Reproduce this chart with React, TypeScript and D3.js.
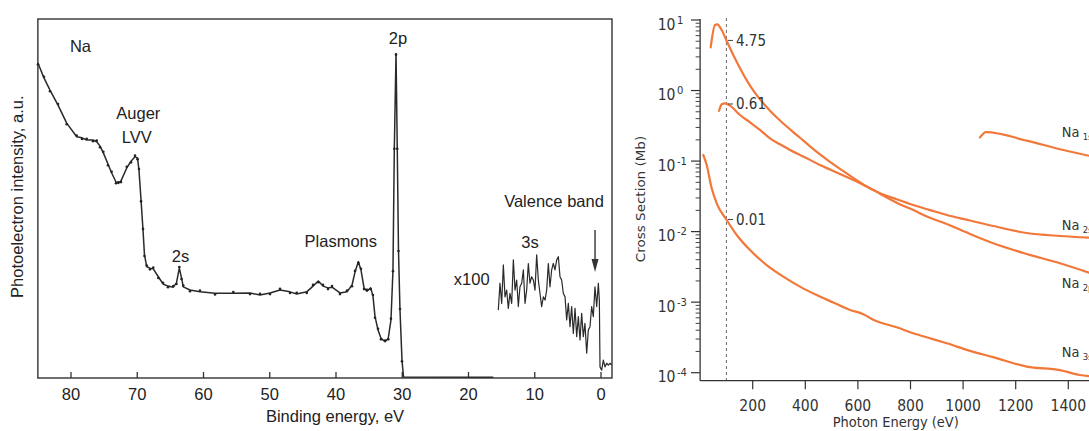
import React from "react";
import * as d3 from "d3";

// ---------- Left panel: Na XPS spectrum ----------
const xpsBinding = [84.98, 84.08, 83.17, 81.96, 80.65, 79.14, 78.34, 77.63, 76.68, 76.12, 75.62, 75.12, 74.42, 73.86, 73.21, 72.86, 72.45, 71.59, 70.94, 70.34, 69.96, 69.74, 69.43, 69.13, 68.91, 68.57, 68.08, 67.58, 66.82, 66.11, 65.36, 64.56, 64.08, 63.65, 63.32, 63.05, 62.04, 60.53, 58.26, 55.5, 52.98, 51.47, 49.96, 48.45, 46.94, 45.93, 44.42, 43.47, 42.67, 41.96, 41.21, 40.6, 39.4, 38.34, 37.58, 37.13, 36.63, 36.23, 35.77, 35.32, 34.76, 34.42, 34.11, 33.66, 33.21, 32.6, 32.11, 31.7, 31.4, 31.2, 30.94, 30.75, 30.57, 30.34, 30.04, 29.81, 16.26];
const xpsIntensity = [87.7, 83.6, 80.2, 76.0, 71.0, 67.2, 66.9, 66.3, 66.3, 65.8, 64.6, 62.7, 59.6, 57.1, 54.6, 54.2, 54.9, 58.5, 60.4, 61.6, 61.3, 57.9, 49.6, 41.2, 34.3, 31.0, 30.6, 30.4, 28.2, 26.2, 25.6, 25.3, 26.5, 30.6, 27.9, 25.4, 24.5, 24.0, 23.6, 23.6, 23.7, 23.1, 23.7, 24.5, 24.0, 23.4, 24.0, 25.6, 27.0, 25.6, 25.1, 25.3, 23.7, 24.0, 25.9, 29.5, 32.4, 30.1, 25.1, 24.2, 25.1, 22.8, 17.1, 13.4, 11.1, 10.1, 11.1, 16.2, 30.1, 63.5, 90.4, 63.5, 35.7, 18.9, 5.0, 0.3, 0.2];

// valence band, x100
const vbBinding = [15.5, 15.25, 14.99, 14.74, 14.49, 14.24, 13.99, 13.74, 13.48, 13.23, 12.98, 12.73, 12.48, 12.23, 11.97, 11.72, 11.47, 11.22, 10.97, 10.72, 10.47, 10.21, 9.96, 9.71, 9.46, 9.21, 8.96, 8.7, 8.45, 8.2, 7.95, 7.7, 7.45, 7.2, 6.94, 6.69, 6.44, 6.19, 5.94, 5.69, 5.43, 5.18, 4.93, 4.68, 4.43, 4.18, 3.92, 3.67, 3.42, 3.17, 2.92, 2.67, 2.42, 2.16, 1.91, 1.66, 1.41, 1.16, 0.91, 0.65, 0.4, 0.25, 0.15, -0.1, -0.35, -0.6, -0.86, -1.11, -1.36, -1.61];
const vbIntensity = [18.9, 26.4, 20.8, 31.5, 22.6, 24.5, 19.4, 23.6, 20.8, 32.9, 24.5, 27.3, 19.9, 25.4, 26.4, 30.1, 20.8, 24.5, 31.9, 26.4, 28.2, 27.3, 24.5, 34.3, 27.3, 23.6, 19.9, 22.6, 21.7, 24.5, 31.9, 25.4, 30.1, 31.9, 30.1, 32.9, 33.8, 28.2, 27.3, 23.6, 22.6, 16.2, 20.8, 14.3, 19.9, 12.4, 19.4, 11.5, 17.1, 10.6, 18.0, 11.5, 15.2, 6.9, 13.4, 14.3, 19.9, 17.1, 25.4, 19.9, 26.4, 21.7, 3.1, 2.2, 5.0, 3.1, 4.1, 3.6, 4.1, 3.6];

const bindingTicks = [80, 70, 60, 50, 40, 30, 20, 10, 0];
const arrowBinding = 0.9;

// ---------- Right panel: photoionisation cross sections ----------
const energy1s = [1064.3, 1087.1, 1241.8, 1368.4, 1478.7];
const sigma1s = [0.217, 0.258, 0.195, 0.147, 0.119];

const energy2s = [71.9, 82.1, 94.7, 113.7, 151.7, 189.7, 227.7, 265.7, 303.8, 341.8, 379.8, 417.9, 455.9, 493.9, 531.9, 557.4, 595.4, 684.0, 747.5, 810.6, 874.1, 937.6, 1026.2, 1114.8, 1241.8, 1368.4, 1478.7];
const sigma2s = [0.513, 0.638, 0.659, 0.61, 0.45, 0.355, 0.276, 0.21, 0.173, 0.144, 0.122, 0.104, 0.0879, 0.0759, 0.0656, 0.0596, 0.0513, 0.0351, 0.0287, 0.0238, 0.0202, 0.0172, 0.0144, 0.012, 0.00955, 0.00867, 0.0082];

const energy2p = [40.3, 56.7, 65.4, 82.1, 101.1, 126.2, 151.7, 189.7, 227.7, 265.7, 303.8, 341.8, 379.8, 417.9, 455.9, 493.9, 531.9, 557.4, 620.5, 684.0, 747.5, 810.6, 874.1, 937.6, 1026.2, 1114.8, 1241.8, 1368.4, 1478.7];
const sigma2p = [4.1, 8.49, 8.69, 7.21, 5.03, 3.19, 2.07, 1.175, 0.75, 0.519, 0.376, 0.282, 0.214, 0.162, 0.1245, 0.0977, 0.0776, 0.0668, 0.0468, 0.0345, 0.0257, 0.0202, 0.0157, 0.0128, 0.00925, 0.00683, 0.00482, 0.00356, 0.00262];

const energy3s = [12.2, 25.1, 44.1, 63.1, 101.1, 139.2, 189.7, 253.2, 316.3, 379.8, 443.3, 506.5, 570.0, 620.5, 658.6, 747.5, 810.6, 874.1, 937.6, 1026.2, 1114.8, 1241.8, 1368.4, 1444.4, 1478.7];
const sigma3s = [0.122, 0.088, 0.0411, 0.0252, 0.0146, 0.00895, 0.00548, 0.00336, 0.0023, 0.00166, 0.00126, 0.000989, 0.000776, 0.000676, 0.000562, 0.00044, 0.000362, 0.000308, 0.000261, 0.000204, 0.000166, 0.000122, 0.000109, 0.0000927, 0.0000897];

const photonTicks = [200, 400, 600, 800, 1000, 1200, 1400];
const sigmaExponents = [1, 0, -1, -2, -3, -4];
const markerEnergy = 100;
const markerLabels = ["4.75", "0.61", "0.01"];
const shellNames = ["1s", "2s", "2p", "3s"];

const ORANGE = "#F2783A";
const LFONT = "'Liberation Sans', Arial, sans-serif";
const RFONT = "'DejaVu Sans', Verdana, sans-serif";
const STRETCH = 1.13;

function interpLog(es: number[], ss: number[], e: number) {
  const i = d3.bisectLeft(es, e);
  if (i <= 0) return ss[0];
  if (i >= es.length) return ss[es.length - 1];
  const t = (e - es[i - 1]) / (es[i] - es[i - 1]);
  return Math.exp(Math.log(ss[i - 1]) * (1 - t) + Math.log(ss[i]) * t);
}

function RText(props: { x: number; y: number; size: number; anchor?: string; children: React.ReactNode }) {
  return (
    <text
      transform={`translate(${props.x},${props.y}) scale(1,${STRETCH})`}
      textAnchor={props.anchor || "start"}
      fontFamily={RFONT}
      fontSize={props.size}
      fill="#333"
    >
      {props.children}
    </text>
  );
}

export default function App() {
  // left scales
  const xL = d3.scaleLinear().domain([80, 0]).range([71, 601]);
  const yL = d3.scaleLinear().domain([0, 100]).range([378, 19]);
  const frame = { x0: xL(85), x1: xL(-1.66), y0: yL(100), y1: yL(0) };

  const xps = xpsBinding.map((e, i) => [e, xpsIntensity[i]] as [number, number]);
  const vb = vbBinding.map((e, i) => [e, vbIntensity[i]] as [number, number]);
  const lineL = d3.line<[number, number]>().x((d) => xL(d[0])).y((d) => yL(d[1]));

  // right scales
  const xR = d3.scaleLinear().domain([0, 1600]).range([700.1, 700.1 + 0.263 * 1600]);
  const yR = d3.scaleLog().domain([1e-4, 10]).range([372.7, 20]);
  const lineR = d3
    .line<[number, number]>()
    .x((d) => xR(d[0]))
    .y((d) => yR(d[1]))
    .curve(d3.curveMonotoneX);

  const series = [
    { e: energy1s, s: sigma1s },
    { e: energy2s, s: sigma2s },
    { e: energy2p, s: sigma2p },
    { e: energy3s, s: sigma3s },
  ];
  const markerSeries = [series[2], series[1], series[3]];

  const minorTicks: number[] = [];
  for (let p = -4; p < 1; p++) for (let m = 2; m <= 9; m++) minorTicks.push(m * Math.pow(10, p));

  const axisY = 380.7;
  const labelOffsets = [-18.7, -7.7, 15.3, -19.3];

  return (
    <svg
      width={1089}
      height={431}
      style={{ position: "absolute", left: 0, top: 0, background: "#fff" }}
    >
      {/* ===== Left panel ===== */}
      <g>
        <rect
          x={frame.x0}
          y={frame.y0}
          width={frame.x1 - frame.x0}
          height={frame.y1 - frame.y0}
          fill="none"
          stroke="#333"
          strokeWidth={1.4}
        />
        {bindingTicks.map((t) => (
          <g key={t}>
            <line x1={xL(t)} x2={xL(t)} y1={frame.y1} y2={frame.y1 - 6} stroke="#333" strokeWidth={1.3} />
            <text x={xL(t)} y={399.5} textAnchor="middle" fontFamily={LFONT} fontSize={16.5} fill="#222">
              {t}
            </text>
          </g>
        ))}
        <text x={335} y={422} textAnchor="middle" fontFamily={LFONT} fontSize={16.5} fill="#222">
          Binding energy, eV
        </text>
        <text
          transform={`translate(22.5,${196.7}) rotate(-90)`}
          textAnchor="middle"
          fontFamily={LFONT}
          fontSize={16.5}
          fill="#222"
        >
          Photoelectron intensity, a.u.
        </text>

        <path d={lineL(xps) || ""} fill="none" stroke="#2a2a2a" strokeWidth={1.5} strokeLinejoin="round" />
        {xps.slice(0, xps.length - 2).map((d, i) => (
          <circle key={i} cx={xL(d[0])} cy={yL(d[1]) + (i % 2 === 0 ? 1.2 : -1.2)} r={1.3} fill="#222" />
        ))}
        <path d={lineL(vb) || ""} fill="none" stroke="#2a2a2a" strokeWidth={1.2} strokeLinejoin="round" />

        {/* arrow */}
        <line x1={xL(arrowBinding)} x2={xL(arrowBinding)} y1={230} y2={264} stroke="#333" strokeWidth={1.4} />
        <path
          d={`M${xL(arrowBinding) - 3.5},${259} L${xL(arrowBinding)},${272} L${xL(arrowBinding) + 3.5},${259} Z`}
          fill="#333"
        />

        <g fontFamily={LFONT} fontSize={16.5} fill="#222" textAnchor="middle">
          <text x={80.5} y={51.5}>Na</text>
          <text x={138.3} y={118.5}>Auger</text>
          <text x={136.7} y={143.3}>LVV</text>
          <text x={180.5} y={261.5}>2s</text>
          <text x={340.8} y={246.5}>Plasmons</text>
          <text x={398} y={43.5}>2p</text>
          <text x={554} y={206.5}>Valence band</text>
          <text x={530} y={248.3}>3s</text>
          <text x={471.7} y={285}>x100</text>
        </g>
      </g>

      {/* ===== Right panel ===== */}
      <g>
        <line
          x1={xR(markerEnergy)}
          x2={xR(markerEnergy)}
          y1={18}
          y2={axisY}
          stroke="#666"
          strokeWidth={1}
          strokeDasharray="3,3"
        />
        <line x1={700.1} x2={700.1} y1={19} y2={axisY} stroke="#333" strokeWidth={1.3} />
        <line x1={700.1} x2={1089} y1={axisY} y2={axisY} stroke="#333" strokeWidth={1.3} />
        {minorTicks.map((v, i) => (
          <line key={i} x1={700.1 - 4.5} x2={700.1} y1={yR(v)} y2={yR(v)} stroke="#444" strokeWidth={1} />
        ))}
        {sigmaExponents.map((p) => {
          const y = yR(Math.pow(10, p));
          return (
            <g key={p}>
              <line x1={691} x2={700.1} y1={y} y2={y} stroke="#333" strokeWidth={1.2} />
              <RText x={675.5} y={y + 9.5} size={14} anchor="end">
                10
              </RText>
              <RText x={677} y={y + 3.5} size={10}>
                {p < 0 ? "-" + Math.abs(p) : String(p)}
              </RText>
            </g>
          );
        })}
        {photonTicks.map((t) => (
          <g key={t}>
            <line x1={xR(t)} x2={xR(t)} y1={axisY} y2={axisY + 8.6} stroke="#333" strokeWidth={1.2} />
            <RText x={xR(t)} y={410.5} size={14} anchor="middle">
              {t}
            </RText>
          </g>
        ))}
        <RText x={895.8} y={427} size={13} anchor="middle">
          Photon Energy (eV)
        </RText>
        <text
          transform={`translate(645,199) rotate(-90) scale(1.08,1.05)`}
          textAnchor="middle"
          fontFamily={RFONT}
          fontSize={12.5}
          fill="#333"
        >
          Cross Section (Mb)
        </text>

        {series.map((s, i) => (
          <path
            key={i}
            d={lineR(s.e.map((e, j) => [e, s.s[j]] as [number, number])) || ""}
            fill="none"
            stroke={ORANGE}
            strokeWidth={2.2}
            strokeLinejoin="round"
            strokeLinecap="round"
          />
        ))}

        {markerSeries.map((s, i) => {
          const y = yR(interpLog(s.e, s.s, markerEnergy));
          return (
            <g key={i}>
              <line x1={728} x2={733} y1={y} y2={y} stroke="#444" strokeWidth={1} />
              <RText x={736} y={y + 5.5} size={13.5}>
                {markerLabels[i]}
              </RText>
            </g>
          );
        })}

        {series.map((s, i) => {
          const yEnd = yR(s.s[s.s.length - 1]) + labelOffsets[i];
          return (
            <g key={i}>
              <RText x={1061.7} y={yEnd} size={13}>
                Na
              </RText>
              <RText x={1082.7} y={yEnd + 3.3} size={8.5}>
                {shellNames[i]}
              </RText>
            </g>
          );
        })}
      </g>
    </svg>
  );
}
